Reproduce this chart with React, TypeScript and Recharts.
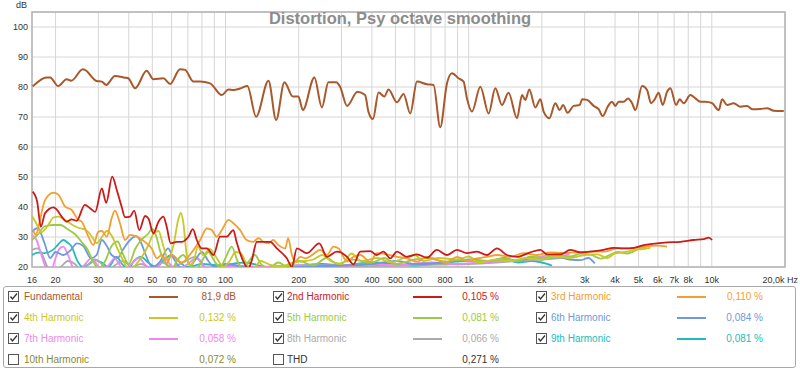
import React from 'react';
import { LineChart, Line, XAxis, YAxis, CartesianGrid, ReferenceArea } from 'recharts';

// frequency (Hz), level (dB)
const fundamental: [number, number][] = [
  [16.1, 80.2], [18.4, 83.2], [19.0, 83.2], [20.5, 80.3], [22.2, 82.6], [23.2, 82.1], [25.9, 85.9], [26.4, 85.7],
  [29.5, 82.0], [31.0, 81.8], [32.3, 80.7], [35.1, 83.7], [38.6, 83.1], [39.8, 82.9], [42.5, 79.6], [47.4, 85.4],
  [50.5, 82.6], [55.5, 82.9], [59.2, 81.0], [65, 85.9], [68.2, 85.7], [73.8, 81.8], [78.6, 81.8], [86.4, 81.2],
  [96.6, 77.3], [102.8, 79.2], [107.7, 79.0], [114.8, 79.5], [123, 80.3], [133.6, 70.1], [150.2, 82.1], [161.5, 69.0],
  [174.7, 81.6], [189.2, 76.8], [199.5, 76.8], [208, 72.3], [232, 83.2], [249, 73.2], [265, 81.6], [285, 81.6],
  [296, 80.1], [316, 73.7], [349, 78.4], [375, 77.3], [387, 71.8], [404, 69.3], [426, 78.2], [450, 76.8],
  [468, 79.2], [507, 74.9], [540, 77.7], [575, 71.2], [613, 81.8], [674, 80.9], [717, 80.7], [764, 66.6],
  [814, 81.2], [854, 84.6], [909, 82.9], [953, 81.8], [984, 76.2], [1032, 71.8], [1117, 80.1], [1208, 71.2],
  [1287, 79.6], [1371, 74.0], [1459, 78.1], [1581, 69.6], [1658, 77.3], [1710, 75.7], [1776, 79.2], [1880, 73.2],
  [1972, 75.9], [2034, 71.8], [2147, 69.6], [2272, 74.6], [2367, 72.3], [2444, 74.0], [2553, 71.4], [2702, 73.7],
  [2861, 74.0], [2927, 75.9], [3069, 75.7], [3267, 73.7], [3425, 72.6], [3557, 70.3], [3730, 73.4], [3888, 75.1],
  [4011, 73.7], [4139, 75.1], [4341, 75.1], [4525, 76.2], [4700, 74.6], [4849, 72.3], [5166, 80.3], [5416, 79.0],
  [5625, 74.6], [5805, 75.7], [6046, 78.1], [6280, 74.0], [6547, 78.4], [6755, 79.6], [7131, 74.0], [7379, 75.9],
  [7661, 74.6], [8166, 77.3], [8561, 76.2], [8976, 75.1], [9410, 75.1], [10030, 74.6], [10678, 72.3], [11029, 75.9],
  [11562, 74.0], [12306, 74.6], [13114, 73.4], [13976, 73.7], [14650, 72.6], [15850, 72.7], [16890, 72.9],
  [17976, 72.1], [19770, 72.0],
];

const h2: [number, number][] = [
  [16.1, 45.1], [16.8, 41.8], [17.4, 33.4], [18.1, 37.9], [19.6, 39.9], [20.2, 39.2], [21.2, 36.8], [22.2, 35.1],
  [23.3, 35.9], [24.4, 35.4], [26.4, 40.7], [27.7, 39.6], [29.1, 38.4], [31.0, 46.2], [32.3, 41.4], [34.2, 50.1],
  [35.7, 45.7], [37.4, 40.1], [38.6, 36.6], [40.5, 36.8], [42.1, 38.8], [44.2, 32.3], [46.7, 37.0], [48.2, 36.2],
  [50.5, 31.2], [53, 35.1], [55.5, 36.8], [57.3, 33.4], [59.5, 27.9], [63, 28.4], [66.1, 28.4], [70.4, 30.1],
  [73.4, 32.6], [76.2, 29.0], [79.9, 26.2], [83.8, 26.2], [89.2, 24.0], [95, 30.1], [101, 30.1], [107.7, 32.3],
  [111, 28.4], [118.5, 21.8], [124, 19.5], [128, 22.0], [134.6, 28.4], [152.6, 28.4], [162.6, 26.2], [178.7, 22.9],
  [187.4, 20.1], [196.6, 26.2], [216, 24.6], [243, 27.9], [261, 23.4], [287, 25.1], [316, 23.4], [336, 20.9],
  [358, 25.1], [394, 25.3], [419, 24.0], [446, 25.1], [476, 22.9], [507, 25.1], [557, 23.4], [613, 24.2],
  [674, 23.1], [740, 25.7], [814, 24.0], [895, 25.7], [984, 24.6], [1082, 25.1], [1189, 24.0], [1308, 26.2],
  [1437, 24.0], [1581, 23.4], [1792, 24.9], [1972, 25.7], [2101, 24.2], [2383, 24.2], [2619, 25.7], [2880, 24.9],
  [3167, 25.1], [3592, 25.7], [3947, 26.4], [4341, 26.2], [4773, 26.4], [5245, 27.3], [5955, 27.9], [6547, 28.2],
  [7427, 28.4], [8423, 29.0], [9262, 29.3], [9712, 29.8], [10030, 29.0],
];

const h3: [number, number][] = [
  [16.2, 32.3], [16.5, 30.7], [18.1, 42.3], [19.6, 44.8], [20.5, 44.2], [21.9, 40.1], [23.3, 39.0], [24.8, 35.7],
  [25.6, 35.1], [27.3, 30.1], [28.6, 27.3], [30.0, 31.8], [31.0, 32.0], [32.5, 30.1], [34.0, 36.2], [35.1, 38.8],
  [36.8, 34.6], [38.6, 29.0], [40.5, 30.7], [43.2, 30.1], [47.4, 27.9], [49.7, 26.2], [52.2, 22.9], [54.7, 24.0],
  [57.3, 21.2], [60, 24.0], [66, 21.5], [72, 24.5], [78.6, 29.0], [83.8, 32.9], [87.8, 32.3], [92, 30.1],
  [96.6, 32.3], [102.8, 35.7], [107.7, 34.6], [114.8, 32.3], [122, 29.0], [130, 28.4], [136.6, 29.6], [143, 28.4],
  [150, 27.9], [157, 29.0], [165, 27.3], [176, 26.2], [181, 29.6], [187.4, 24.0], [193, 21.8], [203, 23.4],
  [213, 22.9], [227, 24.0], [245, 25.7], [261, 24.0], [278, 26.8], [292, 26.2], [316, 21.8], [336, 23.4],
  [358, 24.0], [394, 21.8], [419, 24.6], [461, 24.2], [507, 23.4], [557, 22.9], [613, 21.8], [674, 23.4],
  [740, 22.3], [814, 21.8], [895, 23.4], [984, 22.3], [1082, 22.9], [1189, 23.4], [1308, 24.0], [1483, 23.4],
  [1683, 24.6], [1910, 24.0], [2167, 24.9], [2458, 24.6], [2790, 24.9], [3167, 25.1], [3592, 25.1], [4075, 26.2],
  [4624, 26.2], [5245, 26.8], [5955, 27.1], [6547, 26.8],
];

const h4: [number, number][] = [
  [16, 37.0], [16.8, 34.0], [17.4, 31.5], [18.5, 33.5], [19.6, 36.5], [20.5, 36.8], [22, 35.5], [23.5, 34.0],
  [25, 33.0], [26.5, 32.5], [28, 30.5], [29.5, 28.0], [31, 30.0], [32.5, 32.0], [34, 30.5], [36, 26.0],
  [38, 22.0], [40, 19.0], [44, 22.0], [48, 27.0], [50.5, 31.0], [53, 32.0], [55.5, 27.0], [58, 22.5],
  [61, 27.0], [64, 36.0], [65.5, 38.0], [67, 35.0], [69, 25.0], [71, 20.5], [74, 22.0], [77, 26.8],
  [81, 24.0], [86, 26.0], [92, 23.0], [98, 20.0], [104, 22.0], [110, 25.0], [116, 24.5], [122, 21.0],
  [130, 19.5], [140, 22.0], [150, 21.0], [165, 20.0], [190, 21.5], [230, 22.5], [250, 24.0], [270, 22.0],
  [300, 21.0], [330, 24.5], [360, 22.0], [420, 23.0], [480, 21.5], [560, 23.5], [600, 24.0], [650, 22.0],
  [750, 23.0], [900, 22.5], [1000, 23.5], [1100, 21.5], [1300, 22.5], [1500, 22.0], [1700, 23.0], [2000, 22.5],
  [2300, 23.5], [2600, 23.0], [3000, 24.0], [3400, 24.2], [3700, 23.0], [4000, 24.5], [4400, 25.0], [4800, 25.7],
  [5200, 26.0], [5600, 26.5],
];

const h5: [number, number][] = [
  [16, 29.0], [17, 31.0], [18, 33.5], [19.5, 34.0], [21, 34.0], [22.5, 32.5], [24, 31.0], [25.5, 28.5],
  [27, 26.0], [28.5, 22.0], [30, 19.5], [32, 22.0], [34, 27.0], [36, 28.5], [38, 24.0], [40, 21.0],
  [42.5, 26.0], [45, 29.0], [48, 31.0], [50, 32.8], [52, 30.0], [54, 25.0], [57, 21.0], [60, 19.0],
  [63, 22.0], [67, 24.0], [71, 21.0], [76, 19.5], [80, 22.0], [85, 25.0], [90, 22.0], [95, 20.0],
  [100, 23.0], [106, 26.8], [112, 22.0], [118, 19.0], [125, 22.0], [132, 24.0], [140, 21.0], [150, 19.5],
  [165, 21.5], [180, 20.0], [200, 22.0], [230, 20.5], [260, 23.0], [290, 21.0], [330, 22.5], [400, 21.5],
  [450, 23.0], [500, 21.0], [600, 22.5], [700, 23.0], [800, 21.5], [900, 22.5], [1000, 22.0], [1200, 22.0],
  [1400, 22.8], [1600, 22.0], [1800, 23.5], [2000, 23.0], [2300, 24.0], [2600, 23.5], [2900, 24.5], [3200, 24.0],
  [3500, 22.8], [3800, 24.0], [4100, 25.0], [4500, 24.5], [5000, 26.0], [5400, 26.8],
];

const h6: [number, number][] = [
  [16, 31.8], [16.9, 33.0], [18, 28.0], [19, 23.0], [20, 25.0], [21.5, 24.0], [23, 25.5], [24.5, 27.9],
  [26, 27.0], [28, 22.9], [29.5, 24.0], [31, 29.0], [32.5, 27.0], [34, 24.0], [36, 23.0], [38, 26.0],
  [40.5, 29.0], [43, 30.3], [45, 28.0], [47, 24.0], [50, 20.0], [54, 22.0], [58, 26.2], [61, 23.0],
  [65, 20.0], [70, 19.5], [75, 22.3], [80, 25.0], [85, 22.0], [90, 20.0], [100, 21.0], [120, 20.0],
  [150, 19.5], [200, 20.0], [300, 20.5], [400, 21.0], [500, 22.0], [600, 21.0], [800, 21.5], [1000, 22.5],
  [1200, 22.0], [1400, 23.0], [1600, 22.0], [1800, 23.0], [2000, 22.5], [2300, 23.5], [2600, 22.5], [2900, 22.3],
  [3100, 23.0], [3300, 21.2],
];

const h7: [number, number][] = [
  [16, 30.7], [16.7, 29.0], [17.4, 24.6], [18.2, 20.0], [19, 18.0], [20, 23.0], [20.8, 26.2], [21.5, 26.8],
  [22.5, 24.0], [23.5, 20.0], [24.5, 18.0], [26.5, 21.0], [28, 22.9], [29.5, 21.0], [31, 19.0], [33, 20.5],
  [35, 22.9], [36.5, 21.0], [38, 19.0], [41, 21.0], [44, 23.0], [47, 20.5], [52, 19.0], [55.5, 23.4],
  [59, 21.0], [63, 19.0], [70, 21.0], [76, 23.0], [82, 20.0], [95, 19.5], [110, 20.5], [140, 20.0],
  [200, 20.5], [300, 20.5], [400, 21.0], [500, 20.5], [700, 21.5], [900, 21.0], [1100, 21.5], [1400, 22.0],
  [1700, 22.5], [2000, 23.5], [2200, 24.0], [2400, 23.8], [2600, 24.2],
];

const h8: [number, number][] = [
  [16, 25.7], [16.9, 26.2], [17.8, 23.4], [18.5, 20.0], [19.5, 18.0], [21, 20.0], [22.5, 22.0], [24, 21.0],
  [25.5, 19.0], [27, 20.5], [29, 22.5], [31, 21.0], [33, 19.0], [35, 20.5], [38, 22.0], [41, 20.0],
  [45, 21.0], [50, 19.5], [55, 21.5], [60, 20.0], [67, 21.5], [75, 23.4], [79, 22.0], [84, 19.5],
  [90, 20.0], [100, 21.0], [120, 20.0], [160, 20.2], [200, 20.5], [300, 20.2], [500, 20.5], [800, 20.8],
  [1000, 21.0], [1300, 21.5], [1600, 22.0], [2000, 22.5], [2400, 23.0], [2800, 23.5],
];

const h9: [number, number][] = [
  [16, 24.0], [17, 24.8], [18, 24.6], [19.5, 25.7], [20.5, 27.5], [21.5, 29.0], [22.5, 28.0], [23.3, 26.8],
  [24.5, 22.3], [25.8, 20.1], [27.5, 21.0], [29, 22.3], [31, 21.5], [33, 20.0], [35.7, 23.4], [37.5, 21.0],
  [40, 19.5], [42, 22.0], [45, 23.4], [48, 21.5], [52, 20.0], [56, 22.5], [60, 24.0], [64, 22.0],
  [70, 20.0], [80, 21.0], [95, 20.5], [120, 21.5], [150, 20.0], [200, 20.5], [250, 21.0], [300, 20.5],
  [400, 21.5], [500, 21.0], [600, 20.5], [800, 21.5], [1000, 22.0], [1200, 21.5], [1400, 22.5], [1600, 21.5],
  [1800, 22.0], [2000, 21.5], [2200, 20.5],
];

const xTicks = [16, 20, 30, 40, 50, 60, 70, 80, 90, 100, 200, 300, 400, 500, 600, 700, 800, 900,
  1000, 2000, 3000, 4000, 5000, 6000, 7000, 8000, 9000, 10000, 20000];
const xLabels = ['16', '20', '30', '40', '50', '60', '70', '80', '', '100', '200', '300', '400', '500', '600', '',
  '800', '', '1k', '2k', '3k', '4k', '5k', '6k', '7k', '8k', '', '10k', '20,0k Hz'];
const yTicks = [20, 30, 40, 50, 60, 70, 80, 90, 100];

const legendNames = ['Fundamental', '2nd Harmonic', '3rd Harmonic', '4th Harmonic', '5th Harmonic', '6th Harmonic',
  '7th Harmonic', '8th Harmonic', '9th Harmonic', '10th Harmonic', 'THD'];
const legendValues = ['81,9 dB', '0,105 %', '0,110 %', '0,132 %', '0,081 %', '0,084 %', '0,058 %', '0,066 %',
  '0,081 %', '0,072 %', '0,271 %'];
const legendChecked = [true, true, true, true, true, true, true, true, true, false, false];
const colors = ['#a9582b', '#cc1a1a', '#f0a030', '#c8c828', '#99cc44', '#6f99dd', '#ee88ee', '#aaaaaa',
  '#22bbbb', '#8a8a2a', '#333333'];

const series = [fundamental, h2, h3, h4, h5, h6, h7, h8, h9];

const toPoints = (arr: [number, number][]) => arr.map(([f, v]) => ({ f, v }));

const FONT = '"Liberation Sans", Arial, sans-serif';

const XTick = (props: any) => {
  const { x, y, payload } = props;
  const i = xTicks.indexOf(payload.value);
  const label = i >= 0 ? xLabels[i] : '';
  if (!label) return null;
  const last = payload.value === 20000;
  return (
    <text x={last ? x + 13 : x} y={y + 8} textAnchor={last ? 'end' : 'middle'} fontSize={9}
      fontFamily={FONT} fill="#333">{label}</text>
  );
};

const CheckBox = ({ checked }: { checked: boolean }) => (
  <svg width={11} height={11} style={{ display: 'block' }}>
    <rect x={0.5} y={0.5} width={10} height={10} fill="#fff" stroke="#555" />
    {checked && <polyline points="2.5,5.5 4.5,8 9,2.5" fill="none" stroke="#333" strokeWidth={1.3} />}
  </svg>
);

const colBox = [8, 273, 536];
const colName = [24, 287, 551];
const colLine = [149, 413, 677];
const colValue = [236, 499, 763];
const rowY = [297, 318, 339, 360];

export default function App() {
  return (
    <div style={{ position: 'absolute', left: 0, top: 0, width: 800, height: 372, background: '#fff', fontFamily: FONT }}>
      <LineChart width={800} height={285} margin={{ top: 12, right: 15, bottom: 0, left: 0 }}>
        <CartesianGrid stroke="#d6d6d6" strokeWidth={1} />
        <XAxis dataKey="f" type="number" scale="log" domain={[16, 20000]} allowDataOverflow ticks={xTicks}
          tick={<XTick />} tickLine={false} axisLine={false} height={18} interval={0} />
        <YAxis type="number" domain={[20, 105]} allowDataOverflow ticks={yTicks} width={32} tickLine={false}
          axisLine={false} tickSize={0} tickMargin={4} interval={0}
          tick={{ fontSize: 9, fill: '#333', fontFamily: FONT }} />
        <ReferenceArea x1={16} x2={20000} y1={20} y2={105} fill="none" stroke="#b4b4b4" strokeWidth={1.5} />
        {series.slice(1).reverse().map((s, k) => {
          const idx = series.length - 1 - k;
          return (
            <Line key={idx} data={toPoints(s)} dataKey="v" type="monotone" stroke={colors[idx]} strokeWidth={1.8}
              dot={false} isAnimationActive={false} />
          );
        })}
        <Line data={toPoints(fundamental)} dataKey="v" type="monotone" stroke={colors[0]} strokeWidth={2}
          dot={false} isAnimationActive={false} />
      </LineChart>
      <div style={{ position: 'absolute', left: 16, top: 0, fontSize: 9, color: '#333' }}>dB</div>
      <div style={{ position: 'absolute', left: 0, width: 800, top: 9, textAlign: 'center', fontSize: 16.5,
        fontWeight: 'bold', color: '#8c8c8c' }}>Distortion, Psy octave smoothing</div>
      <div style={{ position: 'absolute', left: 3, top: 286, width: 793, height: 82, border: '1px solid #a8a8a8',
        borderRadius: 3, boxSizing: 'border-box' }} />
      {legendNames.map((name, i) => {
        const r = Math.floor(i / 3);
        const c = i % 3;
        const cy = rowY[r];
        return (
          <React.Fragment key={name}>
            <div style={{ position: 'absolute', left: colBox[c], top: cy - 6 }}>
              <CheckBox checked={legendChecked[i]} />
            </div>
            <div style={{ position: 'absolute', left: colName[c], top: cy - 7, fontSize: 10, lineHeight: '14px',
              color: colors[i], whiteSpace: 'nowrap' }}>{name}</div>
            {legendChecked[i] && (
              <div style={{ position: 'absolute', left: colLine[c], top: cy - 1, width: 29, height: 2,
                background: colors[i] }} />
            )}
            <div style={{ position: 'absolute', left: colValue[c] - 80, width: 80, top: cy - 7, fontSize: 10,
              lineHeight: '14px', textAlign: 'right', color: colors[i] }}>{legendValues[i]}</div>
          </React.Fragment>
        );
      })}
    </div>
  );
}
